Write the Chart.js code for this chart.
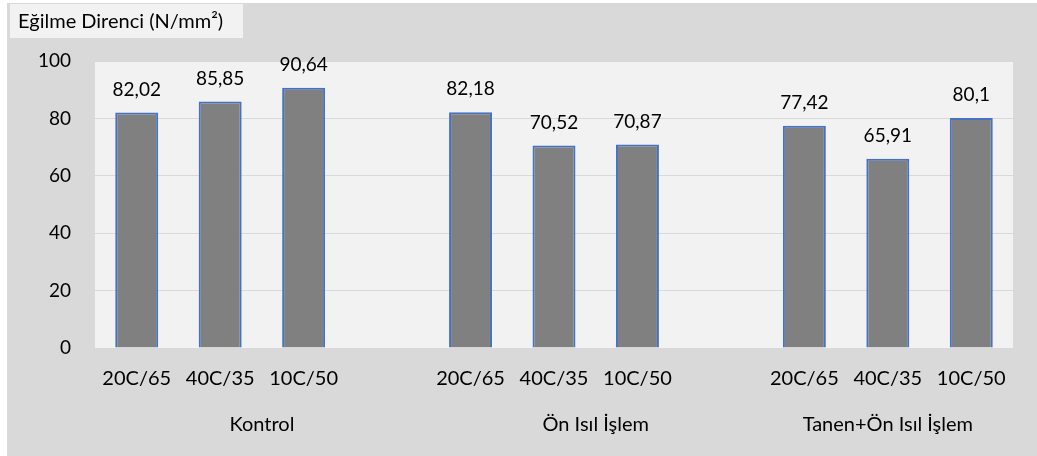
<!DOCTYPE html>
<html>
<head>
<meta charset="utf-8">
<script src="https://cdn.jsdelivr.net/npm/chart.js@4/dist/chart.umd.min.js"></script>
<style>
  html, body { margin: 0; padding: 0; background: #ffffff; }
  #wrap { position: relative; width: 1037px; height: 456px; }
</style>
</head>
<body>
<div id="wrap"><canvas id="c" width="1037" height="456"></canvas></div>
<script>
// Bending strength per drying condition, grouped by treatment.
// Empty slots separate the three treatment groups.
const conditions = ['20C/65', '40C/35', '10C/50', '', '20C/65', '40C/35', '10C/50', '', '20C/65', '40C/35', '10C/50'];
const groups = ['Kontrol', 'Ön Isıl İşlem', 'Tanen+Ön Isıl İşlem'];
const groupSpans = [[0, 3], [4, 7], [8, 10]];
const strength = [82.02, 85.85, 90.64, null, 82.18, 70.52, 70.87, null, 77.42, 65.91, 80.1];
const yTicks = [0, 20, 40, 60, 80, 100];
const unitTitle = 'Eğilme Direnci (N/mm²)';

const FONT = 'Lato, "Open Sans", sans-serif';
const PLOT_LEFT = 95, PLOT_TOP = 61, PLOT_RIGHT = 1013, PLOT_BOTTOM = 348;
const W = 1037, H = 456;

const decor = {
  id: 'decor',
  beforeDraw(chart) {
    const ctx = chart.ctx;
    const a = chart.chartArea;
    ctx.save();
    ctx.fillStyle = '#ffffff';
    ctx.fillRect(0, 0, W, H);
    ctx.fillStyle = '#d9d9d9';
    ctx.fillRect(7, 3, W - 7, H - 3);
    ctx.fillStyle = '#f2f2f2';
    ctx.fillRect(a.left, a.top, a.right - a.left, a.bottom - a.top);
    // unit title box
    ctx.fillStyle = '#f2f2f2';
    ctx.fillRect(10, 4, 233, 34);
    ctx.fillStyle = '#000000';
    ctx.font = '20px ' + FONT;
    ctx.textBaseline = 'middle';
    ctx.textAlign = 'left';
    ctx.fillText(unitTitle, 18, 22);
    ctx.restore();
  },
  afterDatasetsDraw(chart) {
    const ctx = chart.ctx;
    const meta = chart.getDatasetMeta(0);
    const x = chart.scales.x;
    ctx.save();
    ctx.fillStyle = '#000000';
    ctx.textAlign = 'center';
    ctx.font = '19px ' + FONT;
    ctx.textBaseline = 'middle';
    // value labels above bars
    meta.data.forEach((bar, i) => {
      const v = strength[i];
      if (v === null) return;
      ctx.fillText(String(v).replace('.', ','), bar.x, bar.y - 23);
    });
    // group labels under the condition labels
    ctx.font = '20px ' + FONT;
    groupSpans.forEach(([s, e], gi) => {
      const cx = (x.getPixelForValue(s) + x.getPixelForValue(e)) / 2;
      ctx.fillText(groups[gi], cx, 425);
    });
    ctx.restore();
  }
};

new Chart(document.getElementById('c'), {
  type: 'bar',
  data: {
    labels: conditions,
    datasets: [{
      data: strength,
      backgroundColor: '#808080',
      borderColor: '#4472c4',
      borderWidth: 2,
      categoryPercentage: 1,
      barPercentage: 0.515
    }]
  },
  options: {
    responsive: false,
    animation: false,
    devicePixelRatio: 1,
    layout: { padding: { left: 0, top: PLOT_TOP, right: W - PLOT_RIGHT, bottom: 0 } },
    plugins: { legend: { display: false }, tooltip: { enabled: false } },
    scales: {
      x: {
        grid: { display: false, drawTicks: false },
        border: { display: false },
        ticks: { color: '#000000', font: { family: FONT, size: 20 }, padding: 19, maxRotation: 0, autoSkip: false },
        afterFit(s) { s.height = H - PLOT_BOTTOM; }
      },
      y: {
        min: 0, max: 100,
        afterBuildTicks(s) { s.ticks = yTicks.map(v => ({ value: v })); },
        grid: { color: '#d9d9d9', lineWidth: 1, drawTicks: false },
        border: { display: false },
        ticks: { color: '#000000', font: { family: FONT, size: 19 }, padding: 24 },
        afterFit(s) { s.width = PLOT_LEFT; }
      }
    }
  },
  plugins: [decor]
});
</script>
</body>
</html>
